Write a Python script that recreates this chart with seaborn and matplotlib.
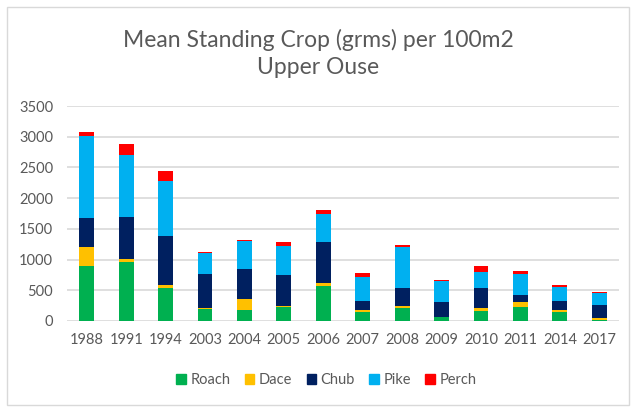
import matplotlib
matplotlib.use("Agg")
import matplotlib.pyplot as plt
import matplotlib.patches as mpatches
import numpy as np
import pandas as pd
import seaborn as sns

years = ["1988", "1991", "1994", "2003", "2004", "2005", "2006", "2007",
         "2008", "2009", "2010", "2011", "2014", "2017"]
roach = [890, 960, 540, 190, 185, 235, 565, 145, 215, 65, 155, 235, 140, 22]
dace = [310, 55, 40, 15, 175, 15, 60, 30, 30, 5, 55, 70, 45, 32]
chub = [480, 685, 805, 565, 480, 495, 655, 155, 295, 235, 325, 115, 135, 200]
pike = [1330, 995, 900, 335, 460, 475, 465, 390, 670, 350, 260, 350, 240, 195]
perch = [60, 190, 160, 15, 20, 60, 55, 60, 27, 15, 105, 45, 30, 28]

species = ["Roach", "Dace", "Chub", "Pike", "Perch"]
colors = ["#00B050", "#FFC000", "#002060", "#00B0F0", "#FF0000"]
title = "Mean Standing Crop (grms) per 100m2\nUpper Ouse"
yticks = [0, 500, 1000, 1500, 2000, 2500, 3000, 3500]

df = pd.DataFrame({"Year": years, "Roach": roach, "Dace": dace,
                   "Chub": chub, "Pike": pike, "Perch": perch})

sns.set_theme(style="white")
plt.rcParams["font.family"] = ["Lato", "DejaVu Sans"]

fig = plt.figure(figsize=(6.36, 4.07), dpi=100)
ax = fig.add_axes([67 / 636, 1 - 321 / 407, (619 - 67) / 636, (321 - 106) / 407])

cum = df[species].cumsum(axis=1)
for sp, col in reversed(list(zip(species, colors))):
    sns.barplot(x=df["Year"], y=cum[sp], color=col, width=0.38, ax=ax,
                saturation=1, linewidth=0, zorder=3)

ax.set_ylim(0, 3500)
ax.set_yticks(yticks)
ax.set_yticklabels([str(t) for t in yticks])
ax.yaxis.grid(True, color="#D9D9D9", linewidth=1.2, zorder=0)
ax.set_axisbelow(True)
for s in ax.spines.values():
    s.set_visible(False)
ax.set_xlabel("")
ax.set_ylabel("")
ax.tick_params(axis="both", length=0, labelsize=10.5, colors="#595959", pad=9)
ax.tick_params(axis="y", pad=10)

fig.text(0.5, 1 - 53 / 407, title, ha="center", va="center", fontsize=16.5,
         color="#595959", linespacing=1.35)

handles = [mpatches.Patch(color=c, label=s) for s, c in zip(species, colors)]
leg = fig.legend(handles=handles, loc="center", bbox_to_anchor=(0.513, 1 - 380 / 407),
                 ncol=5, frameon=False, fontsize=10.5, handlelength=0.65,
                 handleheight=0.65, handletextpad=0.3, columnspacing=1.0)
for t in leg.get_texts():
    t.set_color("#595959")

fig.patches.append(mpatches.Rectangle((7 / 636, 2 / 407), 622 / 636, 398 / 407,
                                      transform=fig.transFigure, fill=False,
                                      edgecolor="#D9D9D9", linewidth=1))

fig.savefig("out.png", dpi=100)
